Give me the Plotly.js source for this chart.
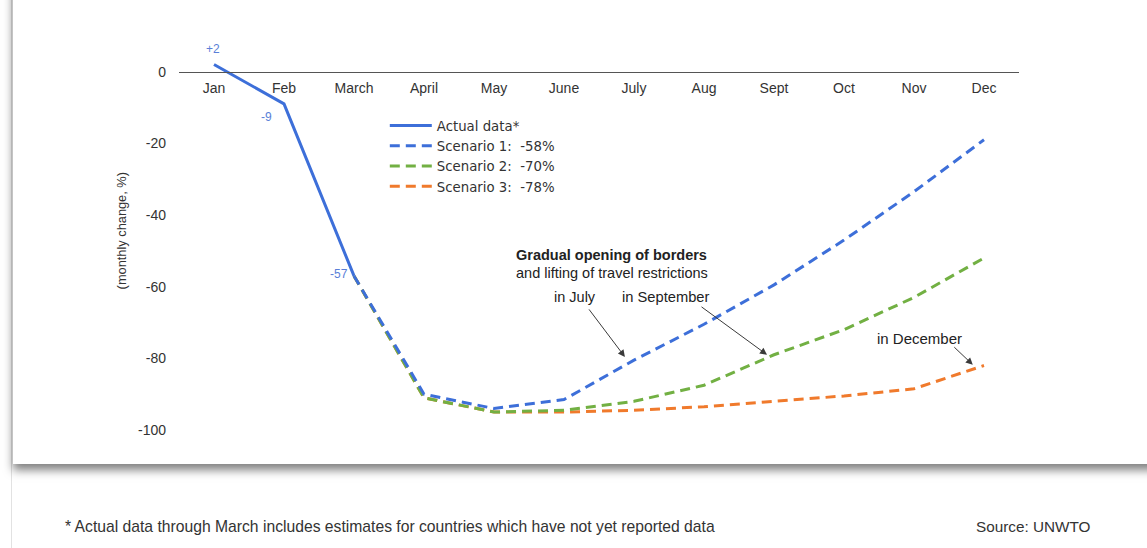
<!DOCTYPE html>
<html>
<head>
<meta charset="utf-8">
<script src="https://cdn.plot.ly/plotly-3.0.1.min.js"></script>
<style>
  html, body { margin: 0; padding: 0; background: #ffffff; }
  #wrap { position: relative; width: 1147px; height: 548px; overflow: hidden; background: #fff; }
  #edge { position: absolute; left: 11px; top: 0; width: 1px; height: 548px; background: #e2e2e2; }
  #card { position: absolute; left: 13px; top: -20px; width: 1160px; height: 484px; background: #fff;
          box-shadow: 0 6px 9px rgba(0,0,0,0.5); }
  #chart { position: absolute; left: 0; top: 0; width: 1147px; height: 548px; }
</style>
</head>
<body>
<div id="wrap">
  <div id="edge"></div>
  <div id="card"></div>
  <div id="chart"></div>
</div>
<script>
const months = ['Jan','Feb','March','April','May','June','July','Aug','Sept','Oct','Nov','Dec'];
const actualMonths = ['Jan','Feb','March'];
const actual = [2, -9, -57];
const actualLabels = ['+2', '-9', '-57'];
const scenarioMonths = ['March','April','May','June','July','Aug','Sept','Oct','Nov','Dec'];
const scenario1 = [-57, -90, -94, -91.5, -80.5, -70.5, -59.5, -47, -33.5, -19];
const scenario2 = [-57, -91, -95, -94.5, -92, -87.5, -79, -72, -63, -52];
const scenario3 = [-57, -91, -95, -95, -94.5, -93.5, -92, -90.5, -88.5, -82];
const seriesNames = ['Actual data*', 'Scenario 1:\u00a0\u00a0-58%', 'Scenario 2:\u00a0\u00a0-70%', 'Scenario 3:\u00a0\u00a0-78%'];
const yTicks = [0, -20, -40, -60, -80, -100];

const BLUE = '#3d6fd9', GREEN = '#72b043', ORANGE = '#f07a2c';
const TXT = '#333333';
const FONT = 'Liberation Sans, Arial, sans-serif';
const dash = '10px,6px';

const traces = [
  {x: scenarioMonths, y: scenario3, name: seriesNames[3], mode: 'lines', legendrank: 4,
   line: {color: ORANGE, width: 3, dash: dash}},
  {x: scenarioMonths, y: scenario2, name: seriesNames[2], mode: 'lines', legendrank: 3,
   line: {color: GREEN, width: 3, dash: dash}},
  {x: scenarioMonths, y: scenario1, name: seriesNames[1], mode: 'lines', legendrank: 2,
   line: {color: BLUE, width: 3, dash: dash}},
  {x: actualMonths, y: actual, name: seriesNames[0], mode: 'lines', legendrank: 1,
   line: {color: BLUE, width: 3}}
];

const ann = [];
const labelShift = [[-1, 16], [-18, -13], [-15, 2]];
actualLabels.forEach((t, i) => {
  ann.push({x: actualMonths[i], y: actual[i], text: t, showarrow: false,
    xshift: labelShift[i][0], yshift: labelShift[i][1],
    font: {family: FONT, size: 12, color: '#5a7fd8'}});
});
ann.push({x: 5.68, y: -51.3, text: '<b>Gradual opening of borders</b>', showarrow: false,
  font: {family: FONT, size: 14.5, color: '#222'}});
ann.push({x: 5.68, y: -56.3, text: 'and lifting of travel restrictions', showarrow: false,
  font: {family: FONT, size: 14.5, color: '#222'}});
ann.push({x: 5.15, y: -63, text: 'in July', showarrow: false,
  font: {family: FONT, size: 14.5, color: '#222'}});
ann.push({x: 6.45, y: -63, text: 'in September', showarrow: false,
  font: {family: FONT, size: 14.7, color: '#222'}});
ann.push({x: 10.08, y: -74.5, text: 'in December', showarrow: false,
  font: {family: FONT, size: 15, color: '#222'}});
// arrows
const arrowStyle = {text: '', showarrow: true, arrowhead: 2, arrowsize: 1.4, arrowwidth: 1, arrowcolor: '#3a3a3a', axref: 'pixel', ayref: 'pixel'};
ann.push(Object.assign({x: 5.87, y: -79.6, ax: -37, ay: -49}, arrowStyle));
ann.push(Object.assign({x: 7.9, y: -79.0, ax: -67, ay: -49}, arrowStyle));
ann.push(Object.assign({x: 10.84, y: -81.8, ax: -20, ay: -19}, arrowStyle));
// y title
ann.push({xref: 'paper', yref: 'paper', x: -0.080, y: 0.514, text: '(monthly change, %)', textangle: -90,
  showarrow: false, font: {family: FONT, size: 12.8, color: TXT}});
// footer
ann.push({xref: 'paper', yref: 'paper', x: -0.138, xanchor: 'left', y: -0.277, text: '* Actual data through March includes estimates for countries which have not yet reported data',
  showarrow: false, font: {family: FONT, size: 15.7, color: TXT}});
ann.push({xref: 'paper', yref: 'paper', x: 0.946, xanchor: 'left', y: -0.277, text: 'Source: UNWTO',
  showarrow: false, font: {family: FONT, size: 15.3, color: TXT}});

const layout = {
  width: 1147, height: 548,
  margin: {l: 179, r: 128, t: 43, b: 118},
  paper_bgcolor: 'rgba(0,0,0,0)', plot_bgcolor: 'rgba(0,0,0,0)',
  showlegend: true,
  legend: {x: 0.245, y: 0.826, xanchor: 'left', yanchor: 'top', bgcolor: 'rgba(0,0,0,0)',
    font: {family: 'DejaVu Sans, Liberation Sans, sans-serif', size: 13.3, color: TXT}, tracegroupgap: 0, itemwidth: 42},
  xaxis: {type: 'category', categoryorder: 'array', categoryarray: months, range: [-0.5, 11.5],
    anchor: 'free', position: 100/108, showline: true, linecolor: '#555', linewidth: 1.5,
    showgrid: false, zeroline: false, ticks: '', ticklabelstandoff: 3,
    tickfont: {family: FONT, size: 14, color: TXT}, fixedrange: true},
  yaxis: {range: [-100, 8], tickvals: yTicks, ticktext: yTicks.map(String), showgrid: false, zeroline: false,
    showline: false, ticks: '', ticklabelstandoff: 12,
    tickfont: {family: FONT, size: 14, color: TXT}, fixedrange: true},
  annotations: ann
};

Plotly.newPlot('chart', traces, layout, {staticPlot: true, displayModeBar: false});
</script>
</body>
</html>
